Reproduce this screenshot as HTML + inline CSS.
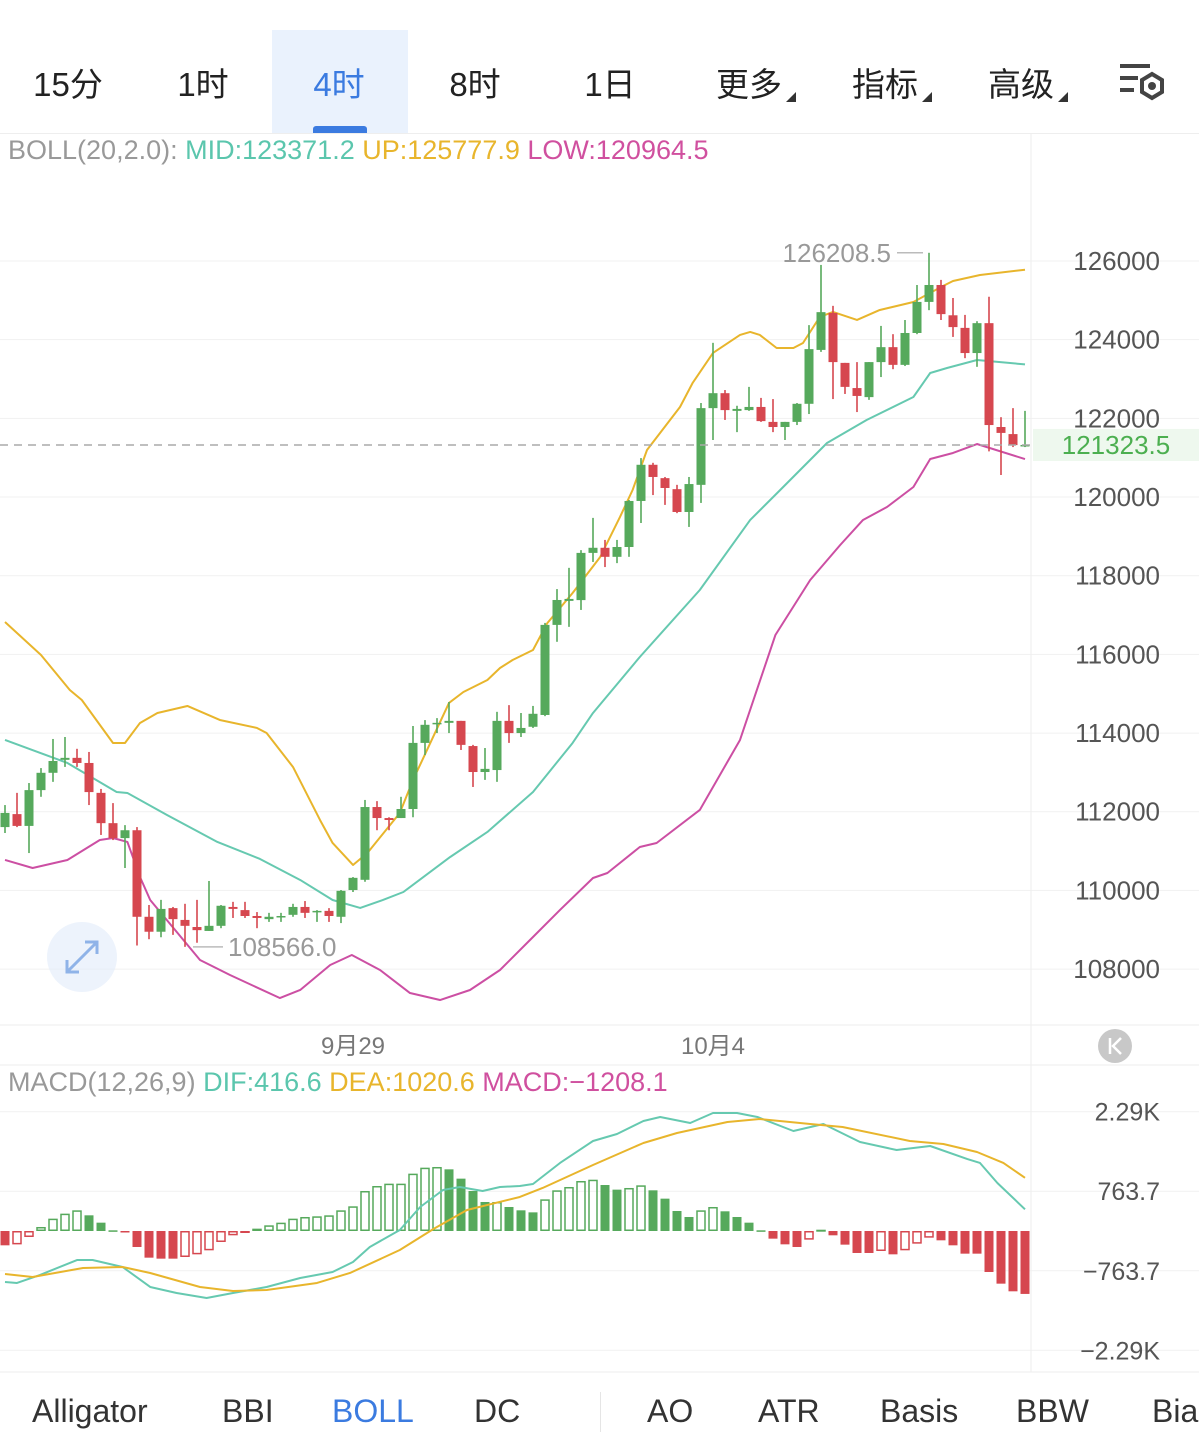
<!DOCTYPE html>
<html><head><meta charset="utf-8">
<style>
html,body{margin:0;padding:0;background:#fff;}
body{width:1199px;height:1452px;overflow:hidden;position:relative;font-family:"Liberation Sans","Noto Sans CJK SC",sans-serif;}
.tab{position:absolute;top:58px;font-size:33px;color:#222;transform:translateX(-50%);white-space:nowrap;}
.ind{position:absolute;top:1393px;font-size:32px;color:#333;white-space:nowrap;}
.tri{display:inline-block;width:0;height:0;border-left:10px solid transparent;border-bottom:10px solid #333;margin-left:4px;vertical-align:-6px;}
.lg{position:absolute;font-size:27px;white-space:nowrap;}
</style></head><body>
<div style="position:absolute;left:0;top:0;width:1199px;height:133px;border-bottom:1px solid #eee;"></div>
<div style="position:absolute;left:272px;top:30px;width:136px;height:103px;background:#eaf2fd;"></div>
<div style="position:absolute;left:313px;top:126px;width:54px;height:7px;background:#3b7be0;border-radius:3px 3px 0 0;"></div>
<div class="tab" style="left:68px">15分</div>
<div class="tab" style="left:203px">1时</div>
<div class="tab" style="left:339px;color:#3b7be0">4时</div>
<div class="tab" style="left:475px">8时</div>
<div class="tab" style="left:610px">1日</div>
<div class="tab" style="left:756px">更多<span class="tri"></span></div>
<div class="tab" style="left:892px">指标<span class="tri"></span></div>
<div class="tab" style="left:1028px">高级<span class="tri"></span></div>
<svg style="position:absolute;left:1118px;top:62px" width="52" height="42" viewBox="0 0 52 42">
<rect x="2" y="2" width="30" height="4" fill="#444"/><rect x="2" y="14" width="18" height="4" fill="#444"/><rect x="2" y="26" width="14" height="4" fill="#444"/>
<path d="M34 12 l10 6 v12 l-10 6 l-10 -6 v-12z" fill="none" stroke="#444" stroke-width="4"/><circle cx="34" cy="24" r="4" fill="#444"/></svg>

<div class="lg" style="left:8px;top:135px;"><span style="color:#999">BOLL(20,2.0):</span> <span style="color:#5bc6ad">MID:123371.2</span> <span style="color:#e8b52c">UP:125777.9</span> <span style="color:#d0509f">LOW:120964.5</span></div>
<div class="lg" style="left:8px;top:1067px;"><span style="color:#999">MACD(12,26,9)</span> <span style="color:#5bc6ad">DIF:416.6</span> <span style="color:#e8b52c">DEA:1020.6</span> <span style="color:#d0509f">MACD:−1208.1</span></div>

<svg id="chart" width="1199" height="1452" style="position:absolute;left:0;top:0" xmlns="http://www.w3.org/2000/svg"></svg>

<div style="position:absolute;left:47px;top:922px;width:70px;height:70px;border-radius:50%;background:rgba(225,235,250,0.6);">
<svg width="70" height="70"><path d="M20 50 L50 20 M38 20 H50 V32 M20 38 V50 H32" stroke="#8fb3e8" stroke-width="3" fill="none"/></svg></div>

<div class="ind" style="left:32px">Alligator</div>
<div class="ind" style="left:222px">BBI</div>
<div class="ind" style="left:332px;color:#3b7be0">BOLL</div>
<div class="ind" style="left:474px">DC</div>
<div style="position:absolute;left:600px;top:1392px;width:1px;height:40px;background:#e5e5e5"></div>
<div class="ind" style="left:647px">AO</div>
<div class="ind" style="left:758px">ATR</div>
<div class="ind" style="left:880px">Basis</div>
<div class="ind" style="left:1016px">BBW</div>
<div class="ind" style="left:1152px">Bias</div>

<script>
// ---- data ----
const opens=[111610,111940,111640,112550,112990,113320,113370,113240,112480,111710,111330,111530,109330,108950,109550,109250,109070,108970,109100,109580,109500,109350,109270,109330,109380,109580,109450,109480,109330,110010,110270,112120,111840,111840,112070,113750,114230,114260,114310,113670,113010,113060,114310,114000,114160,114460,116750,117360,117380,118580,118710,118480,118730,119900,120820,120480,120200,119620,120310,122260,122640,122190,122210,122290,121910,121780,121910,122370,123740,124680,123410,122770,122540,123430,123810,123360,124170,124960,125390,124620,124300,123660,124420,121780,121600,121320];
const highs=[112170,112480,112730,113110,113850,113900,113600,113520,112580,112220,111660,111610,109630,109760,109580,109660,109760,110240,109630,109710,109710,109450,109430,109430,109660,109730,109500,109550,110010,110340,112300,112270,111860,112380,114180,114330,114380,114790,114310,113700,113620,114540,114710,114510,114690,116800,117660,118200,118650,119470,118910,118910,119925,120990,120870,120510,120310,120510,122390,123920,122720,122320,122800,122520,122490,121910,122390,124370,125900,124860,123410,123430,123430,124350,124140,124500,125390,126208.5,125520,125060,124630,124470,125090,122030,122260,122190];
const lows=[111460,111610,110950,112380,112760,113140,113140,112170,111410,111280,110570,108600,108760,108810,108870,108566,108670,108970,109040,109300,109300,109040,109200,109200,109330,109300,109200,109200,109170,109960,110220,111530,111530,111840,111860,113440,114000,114000,113570,112630,112810,112760,113750,113900,114130,114430,116320,116700,117130,118350,118220,118320,118480,119340,120050,119800,119590,119240,119850,121450,121960,121650,122190,121910,121650,121450,121830,122110,123690,122490,122620,122160,122470,123050,123250,123330,124140,124750,124500,124070,123530,123310,121160,120560,121270,121270];
const closes=[111970,111640,112550,112990,113290,113370,113240,112500,111710,111330,111530,109330,108950,109530,109270,109100,108990,109100,109610,109530,109350,109300,109330,109350,109580,109430,109480,109350,109990,110320,112120,111840,111790,112070,113750,114210,114260,114310,113700,113010,113090,114310,114000,114130,114490,116750,117383,117410,118580,118710,118480,118730,119900,120820,120510,120230,119620,120330,122260,122640,122210,122240,122290,121930,121780,121910,122370,123760,124700,123430,122800,122570,123430,123810,123360,124170,124960,125390,124650,124320,123660,124420,121830,121630,121320,121323.5];
const upIdx=[0,3,5.4,6.4,9,10,11.25,12.7,15.2,17.9,21,21.8,24,26.25,27.3,29,30.2,32.9,34,37,38.2,40.2,41.25,42.3,44,45.2,47.3,49.6,51.25,52.3,53.5,56.25,57.3,59,61.25,62.1,62.9,64.3,65.7,66.5,67.9,69,71,72.9,75.7,78,79,81.25,85];
const upVals=[116823,115985,115095,114841,113748,113748,114257,114511,114689,114333,114130,114002,113138,111791,111206,110647,110952,111969,112807,114765,115044,115349,115654,115858,116112,116799,117561,118476,119493,120179,121196,122289,122899,123662,124120,124196,124120,123789,123789,123916,124577,124705,124501,124755,124958,125339,125492,125644,125778];
const midIdx=[0,5.2,9.3,10.2,13.5,17.7,21.25,24.6,27.3,29.6,31.5,33.2,37.1,40.2,44,47.3,49,52.9,57.9,62.1,64.6,68.5,71.8,75.7,77.1,78.5,81,85];
const midVals=[113824,113240,112503,112477,111918,111232,110800,110266,109757,109554,109757,109960,110850,111486,112503,113748,114511,115934,117637,119417,120179,121374,121959,122543,123153,123280,123484,123371];
const lowIdx=[0,2.3,5.2,7.9,9,10.2,11.25,12.1,16.25,18.75,22.9,24.6,27.1,28.9,31.25,33.75,36.25,38.75,41.25,43.75,46.25,49,50.2,52.9,54.3,57.9,61.25,64.2,67.1,69.6,71.5,73.5,75.7,77.1,79,81,85];
const lowVals=[110774,110570,110774,111282,111333,111232,110342,109757,108232,107850,107265,107469,108105,108359,107977,107392,107214,107469,107977,108740,109503,110316,110443,111104,111206,112045,113824,116493,117891,118781,119417,119747,120255,120967,121120,121348,120965];
const macdHist=[-275,-257,-115,77,237,333,397,301,160,13,-13,-307,-512,-531,-531,-499,-448,-371,-211,-83,-19,45,109,160,237,269,282,301,397,474,768,864,909,909,1101,1216,1229,1184,1005,768,557,557,461,397,358,608,781,845,960,985,883,794,826,877,781,621,384,269,397,461,378,269,160,13,-147,-256,-307,-166,25,-83,-262,-422,-422,-384,-448,-371,-243,-128,-179,-275,-435,-435,-787,-1011,-1158,-1208.1];
const difIdx=[0,1,2.9,6,7.3,9.8,12.1,14.3,16.8,19,21.8,24.6,27.3,29,30.4,32.9,34.6,36.5,37.9,39.8,41.25,42.9,44,46.25,49,51,53.2,54.6,57.1,59,61,62.7,65.7,68.2,71.25,74.3,77.1,80.2,81.25,82.7,85];
const difVals=[-979,-998,-845,-557,-557,-691,-1075,-1190,-1286,-1190,-1075,-902,-787,-595,-307,19,461,787,845,768,845,864,902,1306,1728,1862,2112,2189,2074,2266,2266,2189,1920,2054,1709,1555,1632,1382,1306,922,416.6];
const deaIdx=[0,2.3,6.5,9.8,12.1,16.25,19,21.8,26,28.75,32.9,35.7,38.5,42.9,44.8,49,53.2,56,60.2,62.9,67.1,69.8,75.4,78.2,81,83.2,85];
const deaVals=[-826,-883,-710,-691,-806,-1075,-1152,-1133,-998,-806,-365,38,403,653,826,1267,1690,1882,2093,2150,2054,1997,1728,1670,1517,1306,1020.6];
const priceTicks=[126000,124000,122000,120000,118000,116000,114000,112000,110000,108000];
const macdTicks=[2290,763.7,-763.7,-2290];
const macdTickLabels=["2.29K","763.7","−763.7","−2.29K"];
const dateLabels=["9月29","10月4"];
const dateIdx=[29,59];
const lastPrice=121323.5;

// ---- scales ----
const X=i=>5+12*i;
const Y=p=>261+(126000-p)/25.42;
const YM=v=>1231-v/19.2;
const NS="http://www.w3.org/2000/svg";
const svg=document.getElementById('chart');
function mk(tag,attrs){const e=document.createElementNS(NS,tag);for(const k in attrs)e.setAttribute(k,attrs[k]);svg.appendChild(e);return e;}
const GREEN="#56a95c",RED="#d6474f";

priceTicks.forEach(t=>{
  const g=mk('line',{x1:0,x2:1199,y1:Y(t),y2:Y(t),stroke:'#f1f1f1','stroke-width':1});
  
  
  const tx=mk('text',{x:1160,y:Y(t)+9,'text-anchor':'end','font-size':26,fill:'#555','font-family':'Liberation Sans, sans-serif'});
  tx.textContent=t;
  
  
});
macdTicks.forEach((t,i)=>{
  const g=mk('line',{x1:0,x2:1199,y1:YM(t),y2:YM(t),stroke:'#f1f1f1','stroke-width':1});
  
  
  const tx=mk('text',{x:1160,y:YM(t)+9,'text-anchor':'end','font-size':25,fill:'#555','font-family':'Liberation Sans, sans-serif'});
  tx.textContent=macdTickLabels[i];
  
  
});
[[1031,133,1031,1372],[0,1025,1199,1025],[0,1065,1199,1065],[0,1372,1199,1372]].forEach(a=>{
  const l=mk('line',{x1:a[0],y1:a[1],x2:a[2],y2:a[3],stroke:'#eeeeee','stroke-width':1});
  
  
});
dateLabels.forEach((d,i)=>{
  const t=mk('text',{x:X(dateIdx[i]),y:1054,'text-anchor':'middle','font-size':24,fill:'#777','font-family':'Liberation Sans, Noto Sans CJK SC, sans-serif'});
  t.textContent=d;
  
  
});

function poly(idx,vals,color,name,yf){
  const p=mk('polyline',{points:idx.map((i,k)=>X(i)+','+yf(vals[k])).join(' '),fill:'none',stroke:color,'stroke-width':2,'stroke-linejoin':'round'});
  
  
}
poly(upIdx,upVals,'#e8b52c','boll-upper-band',Y);
poly(midIdx,midVals,'#66c9b0','boll-mid-band',Y);
poly(lowIdx,lowVals,'#cc4fa3','boll-lower-band',Y);

opens.forEach((o,i)=>{
  const c=closes[i],up=c>=o,col=up?GREEN:RED;
  const w=mk('line',{x1:X(i),x2:X(i),y1:Y(highs[i]),y2:Y(lows[i]),stroke:col,'stroke-width':1.6});
  
  
  const top=Y(Math.max(o,c)),h=Math.max(1.5,Math.abs(Y(o)-Y(c)));
  const b=mk('rect',{x:X(i)-4.5,y:top,width:9,height:h,fill:col});
  
  
});

const lp=mk('line',{x1:0,x2:1031,y1:Y(lastPrice),y2:Y(lastPrice),stroke:'#aaa','stroke-width':1.5,'stroke-dasharray':'8,6'});


const lpb=mk('rect',{x:1033,y:Y(lastPrice)-16,width:166,height:32,fill:'#eef8ee'});


const lpt=mk('text',{x:1116,y:Y(lastPrice)+9,'text-anchor':'middle','font-size':26,fill:'#4caf50','font-family':'Liberation Sans, sans-serif'});
lpt.textContent=lastPrice.toFixed(1);



let hi=0,lo=0;highs.forEach((h,i)=>{if(h>highs[hi])hi=i;});lows.forEach((l,i)=>{if(l<lows[lo])lo=i;});
const hl=mk('line',{x1:X(hi)-32,x2:X(hi)-6,y1:Y(highs[hi]),y2:Y(highs[hi]),stroke:'#bbb','stroke-width':1.5});


const ht=mk('text',{x:X(hi)-38,y:Y(highs[hi])+9,'text-anchor':'end','font-size':26,fill:'#999','font-family':'Liberation Sans, sans-serif'});
ht.textContent=highs[hi].toFixed(1);


const ll=mk('line',{x1:X(lo)+8,x2:X(lo)+38,y1:Y(lows[lo]),y2:Y(lows[lo]),stroke:'#bbb','stroke-width':1.5});


const lt=mk('text',{x:X(lo)+43,y:Y(lows[lo])+9,'font-size':26,fill:'#999','font-family':'Liberation Sans, sans-serif'});
lt.textContent=lows[lo].toFixed(1);



macdHist.forEach((v,i)=>{
  const prev=i>0?macdHist[i-1]:v;
  const col=v>=0?GREEN:RED;
  const hollow=v>=0?(v>=prev):(v>prev);
  const y0=YM(0),y1=YM(v);
  const top=Math.min(y0,y1),h=Math.max(1.5,Math.abs(y1-y0));
  const r=mk('rect',hollow?{x:X(i)-4,y:top+0.75,width:8,height:Math.max(0.5,h-1.5),fill:'none',stroke:col,'stroke-width':1.5}:{x:X(i)-4.5,y:top,width:9,height:h,fill:col});
  
  
});
poly(difIdx,difVals,'#66c9b0','macd-dif-line',YM);
poly(deaIdx,deaVals,'#e8b52c','macd-dea-line',YM);

const rb=mk('circle',{cx:1115,cy:1046,r:17,fill:'#c8c8c8'});


const rt=mk('path',{d:'M1110 1038 V1054 M1121 1038 L1113 1046 L1121 1054',stroke:'#fff','stroke-width':2.5,fill:'none'});


</script>
</body></html>
